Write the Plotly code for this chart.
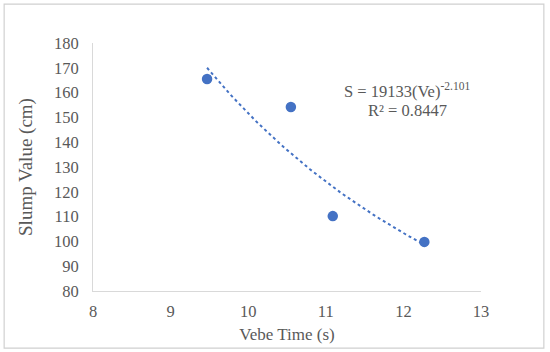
import numpy as np
import plotly.graph_objects as go

vebe_time = [9.47, 10.55, 11.09, 12.27]
slump_value = [165.5, 154.2, 110.2, 99.8]
fit_coef = 19133
fit_exp = -2.101
r_squared = 0.8447
x_ticks = [8, 9, 10, 11, 12, 13]
y_ticks = [80, 90, 100, 110, 120, 130, 140, 150, 160, 170, 180]

xs = np.linspace(min(vebe_time), max(vebe_time), 60)
ys = fit_coef * xs ** fit_exp

blue = "#4472C4"
grey_txt = "#595959"
font_fam = "Liberation Serif, Times New Roman, serif"

fig = go.Figure()
fig.add_trace(go.Scatter(x=xs, y=ys, mode="lines",
                         line=dict(color=blue, width=2, dash="dot"),
                         hoverinfo="skip", showlegend=False))
fig.add_trace(go.Scatter(x=vebe_time, y=slump_value, mode="markers",
                         marker=dict(color=blue, size=10.5), showlegend=False))

fig.update_layout(
    width=550, height=352,
    margin=dict(l=93, r=69, t=43, b=61),
    paper_bgcolor="white", plot_bgcolor="white",
    font=dict(family=font_fam, color=grey_txt, size=16),
    xaxis=dict(range=[8, 13], tickvals=x_ticks, showgrid=False, zeroline=False,
               showline=True, linecolor="#D9D9D9", linewidth=1,
               ticks="outside", ticklen=5, tickcolor="rgba(0,0,0,0)",
               tickfont=dict(size=16.5, color=grey_txt),
               title=dict(text="Vebe Time (s)", font=dict(size=17, color=grey_txt), standoff=8)),
    yaxis=dict(range=[80, 180], tickvals=y_ticks, showgrid=False, zeroline=False,
               showline=True, linecolor="#D9D9D9", linewidth=1,
               ticks="outside", ticklen=10, tickcolor="rgba(0,0,0,0)",
               tickfont=dict(size=16.5, color=grey_txt),
               title=dict(text="Slump Value (cm)", font=dict(size=19, color=grey_txt), standoff=16)),
    shapes=[dict(type="rect", xref="paper", yref="paper",
                 x0=-0.229, x1=1.162, y0=-0.230, y1=1.157,
                 line=dict(color="#D0D0D0", width=1.2), fillcolor="rgba(0,0,0,0)")],
    annotations=[
        dict(x=12.05, y=161.0, xref="x", yref="y", showarrow=False,
             text=f"S = {fit_coef}(Ve)<sup>{fit_exp}</sup>",
             font=dict(size=16.5, color=grey_txt, family=font_fam)),
        dict(x=12.05, y=152.6, xref="x", yref="y", showarrow=False,
             text=f"R² = {r_squared}",
             font=dict(size=16.5, color=grey_txt, family=font_fam)),
    ],
)

fig.write_html("out.html", config={"displayModeBar": False},
               post_script="document.body.style.margin='0';")
